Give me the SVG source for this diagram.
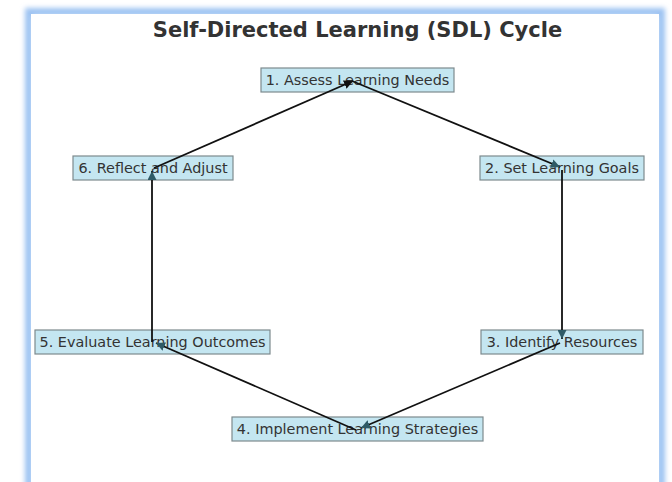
<svg xmlns="http://www.w3.org/2000/svg" width="672" height="482" viewBox="0 0 672 482">
<defs>
<filter id="glow" x="-5%" y="-5%" width="110%" height="110%"><feGaussianBlur stdDeviation="2.5"/></filter>
<marker id="ah" viewBox="0 0 10 10" refX="10" refY="5" markerWidth="9" markerHeight="9" markerUnits="userSpaceOnUse" orient="auto"><path d="M0,0 L10,5 L0,10 z" fill="#2e5a66"/></marker>
<marker id="ahk" viewBox="0 0 10 10" refX="10" refY="5" markerWidth="9" markerHeight="9" markerUnits="userSpaceOnUse" orient="auto"><path d="M0,0 L10,5 L0,10 z" fill="#111"/></marker>
<style>
.box{fill:#c4e6f1;stroke:#7d8a8e;stroke-width:1.2}
.lbl{font-family:"DejaVu Sans",sans-serif;font-size:14.4px;fill:#333;text-anchor:middle}
.ttl{font-family:"DejaVu Sans",sans-serif;font-size:21px;font-weight:bold;fill:#333;text-anchor:middle}
.c{stroke:#111;stroke-width:1.8;fill:none;marker-end:url(#ah)}
</style>
</defs>
<rect width="672" height="482" fill="#fff"/>
<rect x="29" y="12" width="632" height="482" fill="none" stroke="#9cc2f2" stroke-width="8" filter="url(#glow)"/>
<rect x="31" y="14" width="628" height="470" fill="#fff"/>
<text class="ttl" x="357.5" y="37">Self-Directed Learning (SDL) Cycle</text>
<g id="nodes">
<g id="n1"><rect class="box" x="261" y="68" width="193" height="24"/><text class="lbl" x="357.5" y="85">1. Assess Learning Needs</text></g>
<g id="n2"><rect class="box" x="480" y="156" width="164" height="24"/><text class="lbl" x="562" y="173">2. Set Learning Goals</text></g>
<g id="n3"><rect class="box" x="481" y="330" width="162" height="24"/><text class="lbl" x="562" y="347">3. Identify Resources</text></g>
<g id="n4"><rect class="box" x="232" y="417" width="251" height="24"/><text class="lbl" x="357.5" y="434">4. Implement Learning Strategies</text></g>
<g id="n5"><rect class="box" x="35" y="330" width="235" height="24"/><text class="lbl" x="152.5" y="347">5. Evaluate Learning Outcomes</text></g>
<g id="n6"><rect class="box" x="73" y="156" width="160" height="24"/><text class="lbl" x="153" y="173">6. Reflect and Adjust</text></g>
</g>
<g id="connectors">
<line class="c" x1="352" y1="81" x2="560" y2="167"/>
<line class="c" x1="562" y1="170" x2="562" y2="339"/>
<line class="c" x1="560" y1="343" x2="361" y2="428"/>
<line class="c" x1="356" y1="430" x2="156" y2="343"/>
<line class="c" x1="152" y1="342" x2="152" y2="171"/>
<line class="c" x1="154" y1="168" x2="353" y2="81" style="marker-end:url(#ahk)"/>
</g>
</svg>
